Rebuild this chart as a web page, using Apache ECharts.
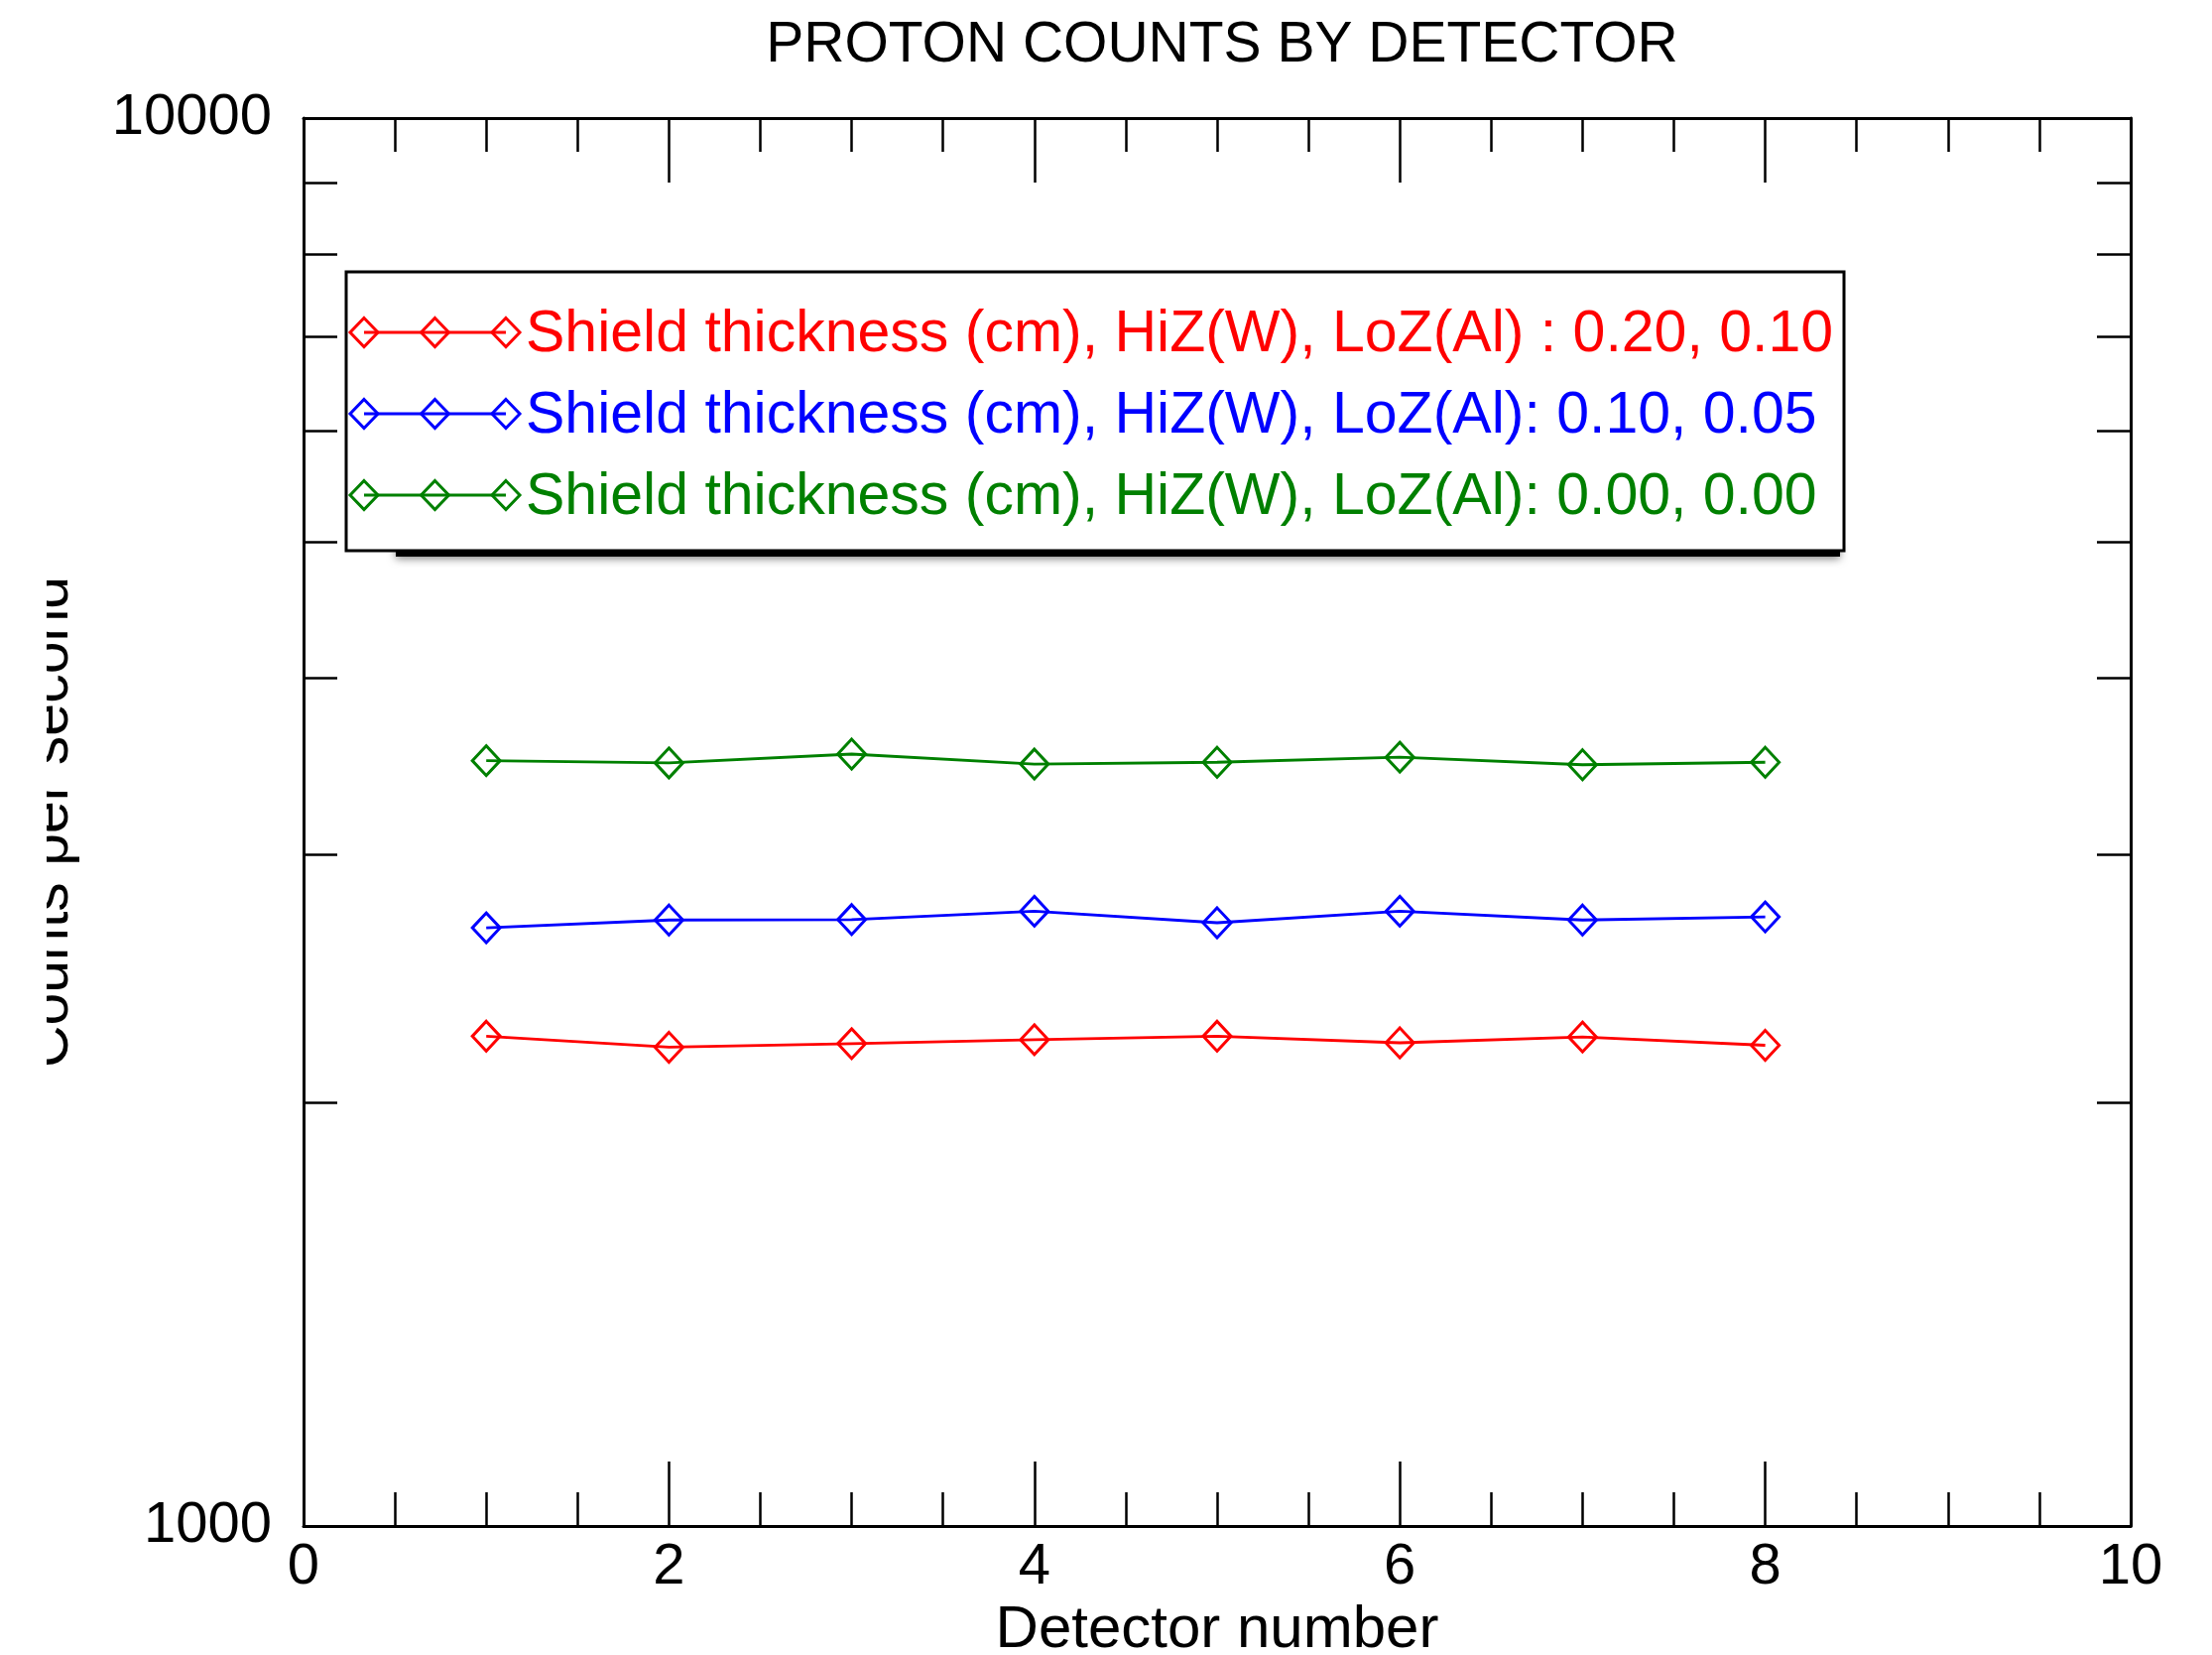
<!DOCTYPE html>
<html>
<head>
<meta charset="utf-8">
<script src="https://cdn.jsdelivr.net/npm/echarts@6/dist/echarts.min.js"></script>
<style>
html,body{margin:0;padding:0;background:#ffffff;}
#chart{width:2230px;height:1668px;}
</style>
</head>
<body>
<div id="chart"></div>
<script>
// ---- data ----
const titleText = 'PROTON COUNTS BY DETECTOR';
const xAxisName = 'Detector number';
const yAxisName = 'Counts per second';
const detectors = [1, 2, 3, 4, 5, 6, 7, 8];
const seriesNames = [
  'Shield thickness (cm), HiZ(W), LoZ(Al) : 0.20, 0.10',
  'Shield thickness (cm), HiZ(W), LoZ(Al): 0.10, 0.05',
  'Shield thickness (cm), HiZ(W), LoZ(Al): 0.00, 0.00'
];
const seriesColors = ['#ff0000', '#0000ff', '#008000'];
const countsThick = [2228, 2188, 2201, 2215, 2228, 2204, 2225, 2195];
const countsThin = [2660, 2694, 2696, 2733, 2682, 2733, 2694, 2708];
const countsNone = [3496, 3483, 3534, 3477, 3487, 3516, 3473, 3487];
const xTickLabels = [0, 2, 4, 6, 8, 10];
const yTickLabels = [1000, 10000];
const yMinorTicks = [2000, 3000, 4000, 5000, 6000, 7000, 8000, 9000];

// ---- style ----
const FONT = '"Liberation Sans", Arial, Helvetica, sans-serif';
const FS = 58;
const allCounts = [countsThick, countsThin, countsNone];

const chart = echarts.init(document.getElementById('chart'), null, {renderer: 'canvas'});

function xAxisCfg(pos, showLabel) {
  return {
    type: 'value', position: pos, min: xTickLabels[0], max: xTickLabels[xTickLabels.length - 1],
    interval: xTickLabels[1] - xTickLabels[0],
    axisLine: {show: true, onZero: false, lineStyle: {color: '#000', width: 3}},
    axisTick: {show: true, inside: true, length: 65, lineStyle: {color: '#000', width: 2.5}},
    minorTick: {show: true, splitNumber: 4, length: 34, lineStyle: {color: '#000', width: 2.5}},
    splitLine: {show: false}, minorSplitLine: {show: false},
    axisLabel: {show: showLabel, margin: 13, fontSize: FS, lineHeight: FS, color: '#000', fontFamily: FONT},
    name: showLabel ? xAxisName : '', nameLocation: 'middle', nameGap: 73,
    nameTextStyle: {fontSize: 60, lineHeight: 60, color: '#000', fontFamily: FONT}
  };
}
function yAxisCfg(pos, showLabel) {
  return {
    type: 'log', logBase: 10, position: pos, min: yTickLabels[0], max: yTickLabels[yTickLabels.length - 1],
    axisLine: {show: true, onZero: false, lineStyle: {color: '#000', width: 3}},
    axisTick: {show: true, inside: true, length: 34, customValues: yMinorTicks, lineStyle: {color: '#000', width: 2.5}},
    minorTick: {show: false},
    splitLine: {show: false},
    axisLabel: {show: showLabel, customValues: yTickLabels, margin: 32, fontSize: FS, lineHeight: FS,
      padding: [5, 0, 0, 0],
      color: '#000', fontFamily: FONT, formatter: v => String(Math.round(v))},
    name: showLabel ? yAxisName : '', nameLocation: 'middle', nameRotate: 90, nameGap: 225,
    nameTextStyle: {fontSize: 59, lineHeight: 59, color: '#000', fontFamily: FONT}
  };
}

// legend drawn as graphic (three diamonds joined by a line, as in the original)
const LG = {x: 349, y: 274, w: 1510, h: 281, row0: 335, rowStep: 82, d0: 367, dStep: 71.5, tx: 530};
const graphics = [];
graphics.push({type: 'rect', z: 98, silent: true,
  shape: {x: LG.x + 50, y: LG.y + LG.h - 6, width: LG.w - 54, height: 12},
  style: {fill: '#000', shadowBlur: 8, shadowColor: 'rgba(0,0,0,0.5)', shadowOffsetY: 2}});
graphics.push({type: 'rect', z: 99, silent: true,
  shape: {x: LG.x, y: LG.y, width: LG.w, height: LG.h},
  style: {fill: '#fff', stroke: '#000', lineWidth: 3}});
seriesNames.forEach((name, i) => {
  const cy = LG.row0 + i * LG.rowStep;
  const c = seriesColors[i];
  graphics.push({type: 'line', z: 100, silent: true,
    shape: {x1: LG.d0, y1: cy, x2: LG.d0 + 2 * LG.dStep, y2: cy},
    style: {stroke: c, lineWidth: 2.8}});
  for (let k = 0; k < 3; k++) {
    const cx = LG.d0 + k * LG.dStep;
    graphics.push({type: 'polygon', z: 101, silent: true,
      shape: {points: [[cx, cy - 14.5], [cx + 14, cy], [cx, cy + 14.5], [cx - 14, cy]]},
      style: {fill: 'none', stroke: c, lineWidth: 3}});
  }
  graphics.push({type: 'text', z: 101, silent: true, x: LG.tx, y: cy + 3,
    style: {text: name, fill: c, fontSize: 59, fontFamily: FONT, align: 'left', verticalAlign: 'middle'}});
});
// the y-axis title is cut at the left edge of the original picture
graphics.push({type: 'rect', z: 200, silent: true,
  shape: {x: 0, y: 480, width: 47, height: 700}, style: {fill: '#fff'}});

const option = {
  animation: false,
  backgroundColor: '#ffffff',
  title: {
    text: titleText, left: 1227, top: 13, textAlign: 'center',
    textStyle: {fontSize: 57, lineHeight: 57, fontWeight: 'normal', color: '#000', fontFamily: FONT}
  },
  grid: {left: 306, right: 82, top: 119, bottom: 130, containLabel: false, outerBoundsMode: 'none'},
  xAxis: [xAxisCfg('bottom', true), xAxisCfg('top', false)],
  yAxis: [yAxisCfg('left', true), yAxisCfg('right', false)],
  series: allCounts.map((arr, i) => ({
    type: 'line', name: seriesNames[i], xAxisIndex: 0, yAxisIndex: 0,
    data: detectors.map((d, j) => [d, arr[j]]),
    symbol: 'diamond', symbolSize: [28, 30], showAllSymbol: true,
    itemStyle: {color: 'rgba(0,0,0,0)', borderColor: seriesColors[i], borderWidth: 3},
    lineStyle: {color: seriesColors[i], width: 2.8},
    emphasis: {disabled: true}
  })),
  graphic: graphics
};
chart.setOption(option);
</script>
</body>
</html>
